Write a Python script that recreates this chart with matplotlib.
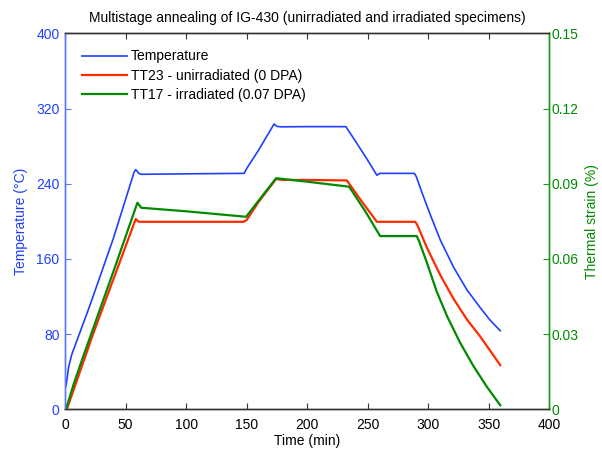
import matplotlib
matplotlib.use("Agg")
import matplotlib.pyplot as plt

# ---- data ----
time_temp = [0, 1, 3, 5.5, 20.7, 40, 57, 58.4, 61, 63, 100, 148, 150, 160, 172.7, 175, 178, 200, 232,
             240, 250, 257.6, 260, 263, 288.4, 290, 295, 301.7, 310, 321, 332, 343, 351, 359.5]
temperature = [22, 26, 45, 58, 111, 182, 252, 255, 251, 250, 250.5, 251, 256, 276, 303.5, 301, 300.5,
               300.7, 300.7, 285, 265, 249, 251, 251, 251, 248, 230, 207, 180, 151, 127, 108, 95, 83.6]

time_tt23 = [0, 1.5, 23.4, 58.4, 61, 100, 147.4, 150, 160, 174.4, 180, 200, 232.8, 245, 257.6, 270,
             289.3, 291, 298.9, 310, 321, 332, 343, 351, 359.5]
strain_tt23 = [0, 0, 0.0303, 0.0759, 0.0748, 0.0748, 0.0748, 0.0755, 0.0828, 0.0919, 0.0915, 0.0915,
               0.0913, 0.083, 0.0748, 0.0748, 0.0748, 0.0735, 0.0645, 0.0535, 0.0440, 0.0358, 0.0290,
               0.0235, 0.0176]

time_tt17 = [0.8, 7.4, 15, 40, 59.8, 63, 100, 149.6, 160, 174.4, 200, 234.7, 248, 260.3, 275, 290.6,
             292.5, 298.9, 307, 315.5, 326.4, 337.4, 348.4, 359.5]
strain_tt17 = [0, 0.0104, 0.021, 0.055, 0.0824, 0.0804, 0.0790, 0.0768, 0.0833, 0.0922, 0.0908, 0.0888,
               0.079, 0.0691, 0.0691, 0.0691, 0.0670, 0.0585, 0.0470, 0.0372, 0.0265, 0.0172, 0.0090,
               0.0016]

x_ticks = [0, 50, 100, 150, 200, 250, 300, 350, 400]
temp_ticks = [0, 80, 160, 240, 320, 400]
strain_ticks = [0, 0.03, 0.06, 0.09, 0.12, 0.15]
strain_ticklabels = ["0", "0.03", "0.06", "0.09", "0.12", "0.15"]

labels = ["Temperature", "TT23 - unirradiated (0 DPA)", "TT17 - irradiated (0.07 DPA)"]

# ---- style ----
plt.rcParams['font.family'] = ['Liberation Sans', 'DejaVu Sans']
FS = 10
BLUE = '#1f3fff'
BLUE_AX = '#5a78ff'
RED = '#ff2a00'
GREEN = '#008a00'
GREEN_AX = '#1a9a1a'

W, H = 602, 451
fig = plt.figure(figsize=(W / 100, H / 100), dpi=100)
left, right, top, bottom = 65, 549.3, 33.3, 409.3
ax = fig.add_axes([left / W, 1 - bottom / H, (right - left) / W, (bottom - top) / H])
ax2 = ax.twinx()

l1, = ax.plot(time_temp, temperature, color=BLUE, lw=1.2)
l2, = ax2.plot(time_tt23, strain_tt23, color=RED, lw=1.6)
l3, = ax2.plot(time_tt17, strain_tt17, color=GREEN, lw=1.6)

ax.set_xlim(0, 400)
ax.set_ylim(0, 400)
ax2.set_ylim(0, 0.15)
ax.set_xticks(x_ticks)
ax.set_xticklabels([str(v) for v in x_ticks], fontsize=FS, color='black')
ax.set_yticks(temp_ticks)
ax.set_yticklabels([str(v) for v in temp_ticks], fontsize=FS, color=BLUE)
ax2.set_yticks(strain_ticks)
ax2.set_yticklabels(strain_ticklabels, fontsize=FS, color=GREEN)

ax.tick_params(axis='x', direction='in', length=4, width=0.8, top=True, colors='#333333', labelcolor='black', pad=6.5)
ax.tick_params(axis='y', direction='in', length=4, width=0.8, colors=BLUE_AX, labelcolor=BLUE, pad=4)
ax2.tick_params(axis='y', direction='in', length=4, width=0.8, colors=GREEN_AX, labelcolor=GREEN, pad=1.5)

for a in (ax, ax2):
    a.spines['top'].set_color('#333333')
    a.spines['bottom'].set_color('#333333')
    a.spines['left'].set_color(BLUE_AX)
    a.spines['right'].set_color(GREEN_AX)
    for s in a.spines.values():
        s.set_linewidth(1.0)

ax.set_xlabel("Time (min)", fontsize=FS, labelpad=1)
ax.set_ylabel("Temperature (°C)", fontsize=FS, color=BLUE, labelpad=6)
ax2.set_ylabel("Thermal strain (%)", fontsize=FS, color=GREEN, rotation=90, labelpad=5)
ax.set_title("Multistage annealing of IG-430 (unirradiated and irradiated specimens)", fontsize=FS, pad=8)

leg = ax2.legend([l1, l2, l3], labels, loc='upper left', bbox_to_anchor=(0.035, 0.957),
                 frameon=False, fontsize=FS, handlelength=3.25, handletextpad=0.25,
                 labelspacing=0.38, borderaxespad=0.0, borderpad=0.0)

fig.savefig("out.png", dpi=100)
